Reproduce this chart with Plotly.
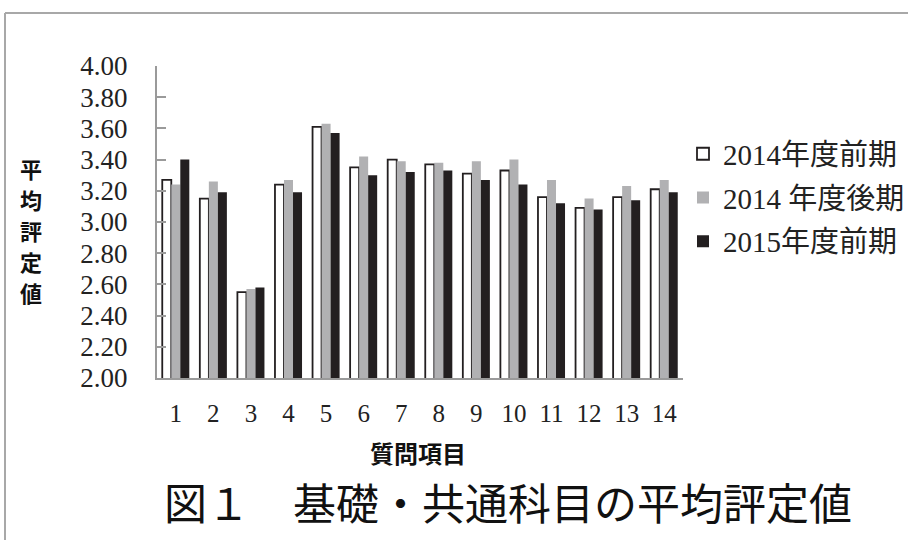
import plotly.graph_objects as go

# Question items and mean ratings for each term
items = [str(i) for i in range(1, 15)]
term_2014_first = [3.27, 3.15, 2.55, 3.24, 3.61, 3.35, 3.40, 3.37, 3.31, 3.33, 3.16, 3.09, 3.16, 3.21]
term_2014_second = [3.24, 3.26, 2.57, 3.27, 3.63, 3.42, 3.39, 3.38, 3.39, 3.40, 3.27, 3.15, 3.23, 3.27]
term_2015_first = [3.40, 3.19, 2.58, 3.19, 3.57, 3.30, 3.32, 3.33, 3.27, 3.24, 3.12, 3.08, 3.14, 3.19]

names = ["2014年度前期", "2014 年度後期", "2015年度前期"]
y_ticks = [2.0 + 0.2 * i for i in range(11)]
y_title_chars = ["平", "均", "評", "定", "値"]

serif = "Liberation Serif"
mixed = "Liberation Serif, Noto Sans CJK JP"
gothic = "Noto Sans CJK JP"

fig = go.Figure()
fig.add_trace(go.Bar(x=items, y=term_2014_first, name=names[0], legendgroup="a",
                     marker=dict(color="white", line=dict(color="#231f20", width=1.8))))
fig.add_trace(go.Bar(x=items, y=term_2014_second, name=names[1], legendgroup="b",
                     marker=dict(color="#b1b1b3", line=dict(width=0))))
fig.add_trace(go.Bar(x=items, y=term_2015_first, name=names[2], legendgroup="c",
                     marker=dict(color="#231f20", line=dict(width=0))))

fig.update_layout(
    width=908, height=540,
    margin=dict(l=157, r=225, t=66, b=162, autoexpand=False),
    paper_bgcolor="white", plot_bgcolor="white",
    barmode="group", bargap=0.28, bargroupgap=0,
    showlegend=True,
    legend=dict(x=1.0, y=0.8, xanchor="left", yanchor="top",
                font=dict(family=mixed, size=29, color="#222"),
                tracegroupgap=3, itemwidth=30, traceorder="grouped",
                bgcolor="rgba(0,0,0,0)"),
    font=dict(family=mixed, color="#222"),
)

fig.update_xaxes(
    type="category", showgrid=False, ticks="",
    showline=True, linecolor="#9a9a9a", linewidth=2,
    tickfont=dict(family=serif, size=25, color="#222"),
    ticklabelstandoff=12,
)
fig.update_yaxes(
    range=[2.0, 4.0], tickvals=y_ticks, tickformat=".2f",
    showgrid=False, zeroline=False,
    showline=True, linecolor="#9a9a9a", linewidth=2,
    ticks="inside", ticklen=9, tickwidth=2, tickcolor="#9a9a9a",
    tickfont=dict(family=serif, size=27, color="#222"),
    ticklabelstandoff=22,
)

# Vertical y-axis title, one character per line
for i, ch in enumerate(y_title_chars):
    fig.add_annotation(text=ch, xref="paper", yref="paper",
                       x=(31 - 157) / 526, y=(378 - (168 + 31 * i)) / 312,
                       showarrow=False, xanchor="center", yanchor="middle",
                       font=dict(family=gothic, size=22, color="#111", weight="bold"))

# X-axis title and figure caption
fig.add_annotation(text="質問項目", xref="paper", yref="paper",
                   x=(418 - 157) / 526, y=(378 - 452) / 312, showarrow=False,
                   xanchor="center", yanchor="middle",
                   font=dict(family=gothic, size=24, color="#111", weight="bold"))
fig.add_annotation(text="図１　基礎・共通科目の平均評定値", xref="paper", yref="paper",
                   x=(508 - 157) / 526, y=(378 - 501) / 312, showarrow=False,
                   xanchor="center", yanchor="middle",
                   font=dict(family=gothic, size=43, color="#111"))

# Frame around the figure
fig.add_shape(type="line", xref="paper", yref="paper",
              x0=(5 - 157) / 526, x1=(5 - 157) / 526,
              y0=(378 - 13) / 312, y1=(378 - 560) / 312,
              line=dict(color="#a8a8a8", width=2))
fig.add_shape(type="line", xref="paper", yref="paper",
              x0=(5 - 157) / 526, x1=(930 - 157) / 526,
              y0=(378 - 13) / 312, y1=(378 - 13) / 312,
              line=dict(color="#a8a8a8", width=2))

fig.write_html("out.html")
